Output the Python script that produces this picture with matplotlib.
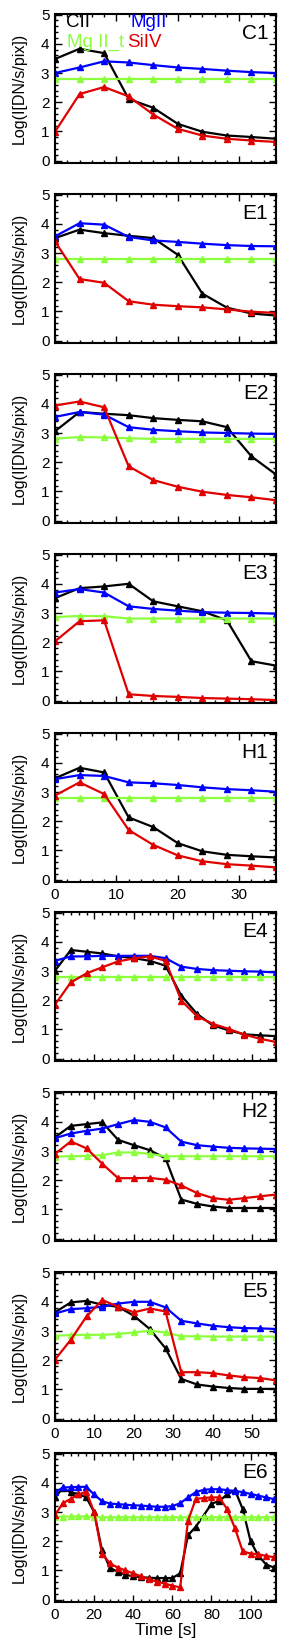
import matplotlib.pyplot as plt
from matplotlib.ticker import MultipleLocator

plt.rcParams['font.family'] = ['Liberation Sans', 'DejaVu Sans']

# tiempos [s]
t_a = [0, 4, 8, 12, 16, 20, 24, 28, 32, 36]
t_b = [0, 4, 8, 12, 16, 20, 24, 28, 32, 36, 40, 44, 48, 52, 56]
t_c = [0, 4, 8, 12, 16, 20, 24, 28, 32, 36, 40, 44, 48, 52, 56, 60, 64,
       68, 72, 76, 80, 84, 88, 92, 96, 100, 104, 108, 112]

labels = ['C1', 'E1', 'E2', 'E3', 'H1', 'E4', 'H2', 'E5', 'E6']
lines = ['CII', 'MgII', 'Mg II_t', 'SiIV']

# log intensidad por evento: CII, MgII, MgII_t, SiIV
c1_cii = [3.48, 3.83, 3.68, 2.11, 1.81, 1.26, 0.99, 0.86, 0.81, 0.75]
c1_mg = [3.00, 3.19, 3.40, 3.36, 3.27, 3.19, 3.14, 3.08, 3.03, 3.00]
c1_mgt = [2.78, 2.78, 2.78, 2.78, 2.78, 2.78, 2.78, 2.78, 2.78, 2.78]
c1_si = [0.99, 2.28, 2.52, 2.20, 1.58, 1.09, 0.86, 0.75, 0.69, 0.64]

e1_cii = [3.51, 3.80, 3.68, 3.59, 3.51, 2.94, 1.61, 1.13, 0.93, 0.86]
e1_mg = [3.57, 4.02, 3.97, 3.55, 3.43, 3.38, 3.32, 3.27, 3.24, 3.23]
e1_mgt = [2.78, 2.78, 2.78, 2.78, 2.78, 2.78, 2.78, 2.78, 2.78, 2.78]
e1_si = [3.40, 2.11, 1.98, 1.35, 1.23, 1.18, 1.14, 1.07, 0.99, 0.95]

e2_cii = [3.06, 3.72, 3.66, 3.61, 3.51, 3.45, 3.40, 3.20, 2.20, 1.58]
e2_mg = [3.55, 3.72, 3.63, 3.20, 3.11, 3.06, 3.02, 3.00, 2.98, 2.97]
e2_mgt = [2.81, 2.86, 2.85, 2.82, 2.80, 2.80, 2.80, 2.80, 2.80, 2.80]
e2_si = [3.94, 4.08, 3.88, 1.86, 1.39, 1.16, 0.99, 0.88, 0.80, 0.70]

e3_cii = [3.51, 3.85, 3.91, 4.00, 3.40, 3.23, 3.06, 2.75, 1.35, 1.20]
e3_mg = [3.70, 3.82, 3.70, 3.23, 3.14, 3.08, 3.03, 3.01, 3.00, 2.98]
e3_mgt = [2.86, 2.90, 2.89, 2.81, 2.81, 2.81, 2.81, 2.81, 2.81, 2.81]
e3_si = [2.03, 2.72, 2.75, 0.22, 0.16, 0.13, 0.09, 0.07, 0.05, 0.02]

h1_cii = [3.47, 3.83, 3.67, 2.13, 1.80, 1.25, 0.97, 0.85, 0.80, 0.76]
h1_mg = [3.44, 3.58, 3.55, 3.33, 3.30, 3.24, 3.16, 3.10, 3.06, 3.01]
h1_mgt = [2.78, 2.78, 2.78, 2.78, 2.78, 2.78, 2.78, 2.78, 2.78, 2.78]
h1_si = [2.88, 3.33, 2.93, 1.70, 1.19, 0.83, 0.63, 0.53, 0.48, 0.42]

e4_cii = [3.01, 3.72, 3.66, 3.60, 3.50, 3.44, 3.35, 3.18, 2.16, 1.53,
          1.14, 0.97, 0.83, 0.80, 0.77]
e4_mg = [3.35, 3.50, 3.50, 3.52, 3.52, 3.52, 3.52, 3.44, 3.15, 3.07,
         3.03, 3.01, 2.99, 2.98, 2.95]
e4_mgt = [2.78, 2.78, 2.78, 2.78, 2.78, 2.78, 2.78, 2.78, 2.78, 2.78,
          2.78, 2.78, 2.78, 2.78, 2.78]
e4_si = [1.85, 2.61, 2.92, 3.13, 3.33, 3.43, 3.50, 3.35, 1.99, 1.45,
         1.19, 1.02, 0.82, 0.68, 0.57]

h2_cii = [3.47, 3.86, 3.92, 3.98, 3.38, 3.20, 3.03, 2.75, 1.34, 1.19,
          1.10, 1.05, 1.05, 1.05, 1.05]
h2_mg = [3.44, 3.60, 3.69, 3.77, 3.92, 4.06, 4.00, 3.81, 3.32, 3.20,
         3.15, 3.11, 3.09, 3.08, 3.07]
h2_mgt = [2.81, 2.82, 2.83, 2.86, 2.95, 2.95, 2.90, 2.82, 2.82, 2.82,
          2.82, 2.82, 2.82, 2.82, 2.82]
h2_si = [2.90, 3.33, 3.09, 2.56, 2.07, 2.07, 2.08, 2.02, 1.82, 1.56,
         1.39, 1.33, 1.39, 1.45, 1.51]

e5_cii = [3.64, 3.98, 4.03, 3.90, 3.83, 3.52, 3.07, 2.41, 1.36, 1.17,
          1.10, 1.05, 1.02, 1.02, 1.02]
e5_mg = [3.60, 3.75, 3.78, 3.83, 3.94, 4.00, 4.00, 3.81, 3.35, 3.26,
         3.18, 3.13, 3.10, 3.09, 3.07]
e5_mgt = [2.84, 2.86, 2.87, 2.87, 2.90, 2.95, 3.01, 2.95, 2.82, 2.82,
          2.81, 2.81, 2.81, 2.81, 2.81]
e5_si = [2.02, 2.70, 3.50, 4.06, 3.83, 3.64, 3.77, 3.67, 1.59, 1.59,
         1.56, 1.48, 1.42, 1.39, 1.31]

e6_cii = [3.50, 3.82, 3.67, 3.62, 3.50, 3.00, 1.70, 1.10, 0.95, 0.85,
          0.80, 0.77, 0.75, 0.74, 0.74, 0.74, 0.90, 2.20, 2.50, 2.88,
          3.28, 3.38, 3.60, 3.75, 3.10, 2.00, 1.50, 1.20, 1.10]
e6_mg = [3.67, 3.84, 3.85, 3.86, 3.86, 3.60, 3.37, 3.29, 3.27, 3.25,
         3.23, 3.22, 3.20, 3.18, 3.18, 3.20, 3.30, 3.50, 3.68, 3.76,
         3.78, 3.78, 3.75, 3.72, 3.68, 3.62, 3.56, 3.50, 3.44]
e6_mgt = [2.82, 2.84, 2.85, 2.85, 2.85, 2.83, 2.82, 2.82, 2.82, 2.82,
          2.82, 2.82, 2.82, 2.82, 2.82, 2.82, 2.82, 2.82, 2.82, 2.82,
          2.82, 2.82, 2.82, 2.82, 2.82, 2.82, 2.82, 2.82, 2.82]
e6_si = [2.90, 3.30, 3.45, 3.60, 3.70, 3.00, 1.58, 1.25, 1.10, 1.00,
         0.90, 0.80, 0.70, 0.62, 0.55, 0.48, 0.42, 2.70, 3.45, 3.48,
         3.50, 3.50, 3.10, 2.45, 1.65, 1.58, 1.55, 1.50, 1.45]

series = [
    (t_a, c1_cii, c1_mg, c1_mgt, c1_si),
    (t_a, e1_cii, e1_mg, e1_mgt, e1_si),
    (t_a, e2_cii, e2_mg, e2_mgt, e2_si),
    (t_a, e3_cii, e3_mg, e3_mgt, e3_si),
    (t_a, h1_cii, h1_mg, h1_mgt, h1_si),
    (t_b, e4_cii, e4_mg, e4_mgt, e4_si),
    (t_b, h2_cii, h2_mg, h2_mgt, h2_si),
    (t_b, e5_cii, e5_mg, e5_mgt, e5_si),
    (t_c, e6_cii, e6_mg, e6_mgt, e6_si),
]

colors = ['black', '#0000ff', '#8cff3c', '#e00000']
xlims = [36, 36, 36, 36, 36, 56, 56, 56, 113]
xmajor = [10, 10, 10, 10, 10, 10, 10, 10, 20]
show_xlabels = [False, False, False, False, True, False, False, True, True]
tops = [14, 194, 374, 554, 733, 912, 1092, 1272, 1453]

W, H = 293, 1652
fig = plt.figure(figsize=(W / 100, H / 100), dpi=100)

for i, (t, cii, mg, mgt, si) in enumerate(series):
    ax = fig.add_axes([55 / W, 1 - (tops[i] + 149) / H, 221 / W, 149 / H])
    for y, c in zip([cii, mg, mgt, si], colors):
        ax.plot(t, y, color=c, lw=1.6, marker='^', ms=4, mec=c, mfc=c)

    ax.set_xlim(0, xlims[i])
    ax.set_ylim(-0.08, 5.02)
    ax.xaxis.set_major_locator(MultipleLocator(xmajor[i]))
    ax.xaxis.set_minor_locator(MultipleLocator(xmajor[i] / 5))
    ax.yaxis.set_major_locator(MultipleLocator(1))
    ax.yaxis.set_minor_locator(MultipleLocator(0.2))
    ax.tick_params(which='both', direction='in', top=True, right=True,
                   labelsize=11, width=1, pad=4)
    ax.tick_params(which='major', length=5)
    ax.tick_params(which='minor', length=2.5)
    for s in ax.spines.values():
        s.set_linewidth(1.5)
    if not show_xlabels[i]:
        ax.set_xticklabels([])
    ax.set_ylabel('Log(I[DN/s/pix])', fontsize=11.5)
    ax.yaxis.set_label_coords(-0.13, 0.5)
    ax.text(0.965, 0.87, labels[i], transform=ax.transAxes, fontsize=15,
            ha='right', va='center')

    if i == 0:
        ax.text(0.05, 0.94, lines[0], color=colors[0], transform=ax.transAxes,
                fontsize=13.5, va='center')
        ax.text(0.34, 0.94, lines[1], color=colors[1], transform=ax.transAxes,
                fontsize=13.5, va='center')
        ax.text(0.055, 0.81, lines[2], color=colors[2], transform=ax.transAxes,
                fontsize=13.5, va='center')
        ax.text(0.325, 0.81, lines[3], color=colors[3], transform=ax.transAxes,
                fontsize=13.5, va='center')
    if i == 8:
        ax.set_xlabel('Time [s]', fontsize=12.5, labelpad=1)

fig.savefig('out.png', dpi=100)
